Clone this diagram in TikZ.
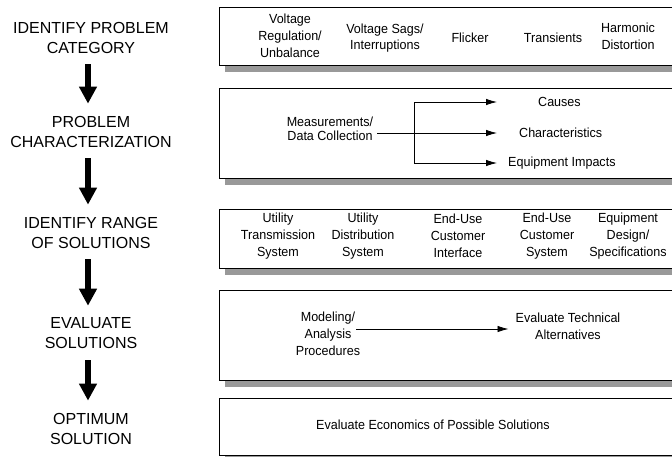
\documentclass[tikz,border=0pt]{standalone}
\usepackage{fontspec}
\setmainfont{Liberation Sans}
\newfontfamily\narrowsf{Liberation Sans}[FakeStretch=0.95]
\usepackage{tikz}
\usetikzlibrary{arrows.meta}
\usetikzlibrary{shadows}

\tikzset{
  steplabel/.style={align=center, inner sep=0pt, font=\fontsize{16}{20}\selectfont},
  boxtext/.style={align=center, inner sep=0pt, font=\narrowsf\fontsize{13.2}{16.8}\selectfont},
  panel/.style={draw, line width=1.3pt, fill=white, anchor=north west, minimum width=471pt,
    drop shadow={shadow xshift=5pt, shadow yshift=-6pt, fill=black!40, opacity=1}},
  bigarrow/.style={line width=6.5pt, -{Triangle[length=17pt,width=17pt]},
    shorten <=11pt, shorten >=12pt},
  thinarrow/.style={line width=0.8pt, -{Latex[length=11pt,width=6.5pt]}}
}

\begin{document}
\begin{tikzpicture}[x=1pt,y=-1pt]
  \path[use as bounding box] (0,0) rectangle (672,456);
  \clip (0,0) rectangle (672,456);

  % steps on the left
  \node[steplabel] (lab1) at (91,37.5) {IDENTIFY PROBLEM\\CATEGORY};
  \node[steplabel] (lab2) at (91,131.5) {PROBLEM\\CHARACTERIZATION};
  \node[steplabel] (lab3) at (91,232.5) {IDENTIFY RANGE\\OF SOLUTIONS};
  \node[steplabel] (lab4) at (91,333.5) {EVALUATE\\SOLUTIONS};
  \node[steplabel] (lab5) at (91,428.5) {OPTIMUM\\SOLUTION};

  \draw[bigarrow] ([xshift=-3pt]lab1.south) -- ([xshift=-3pt]lab2.north);
  \draw[bigarrow] ([xshift=-3pt]lab2.south) -- ([xshift=-3pt]lab3.north);
  \draw[bigarrow] ([xshift=-3pt]lab3.south) -- ([xshift=-3pt]lab4.north);
  \draw[bigarrow] ([xshift=-3pt]lab4.south) -- ([xshift=-3pt]lab5.north);

  % panels on the right
  \node[panel, minimum height=58pt] (catbox) at (219,7) {};
  \node[panel, minimum height=90pt] (charbox) at (219,88) {};
  \node[panel, minimum height=59pt] (rangebox) at (219,209) {};
  \node[panel, minimum height=90pt] (evalbox) at (219,290) {};
  \node[panel, minimum height=57pt] (optbox) at (219,398) {};

  % problem categories
  \node[boxtext] (volreg) at (290,36) {Voltage\\Regulation/\\Unbalance};
  \node[boxtext] (sags) at (385,38) {Voltage Sags/\\Interruptions};
  \node[boxtext] (flicker) at (470,38) {Flicker};
  \node[boxtext] (trans) at (553,38) {Transients};
  \node[boxtext] (harm) at (628,36) {Harmonic\\Distortion};

  % characterization
  \node[boxtext, font=\narrowsf\fontsize{13.2}{14.5}\selectfont] (meas) at (330,129) {Measurements/\\Data Collection};
  \node[boxtext, anchor=west] (causes) at (538,102) {Causes};
  \node[boxtext, anchor=west] (chars) at (519,133) {Characteristics};
  \node[boxtext, anchor=west] (impacts) at (508,163) {Equipment Impacts};
  \coordinate (fork) at (414,133);
  \coordinate (tipx) at (497,133);
  \draw[thinarrow, shorten <=4pt] (meas.east |- fork) -- (tipx);
  \draw[thinarrow] (fork) |- (causes.west -| tipx);
  \draw[thinarrow] (fork) |- (impacts.west -| tipx);

  % range of solutions
  \node[boxtext] (transsys) at (278,236) {Utility\\Transmission\\System};
  \node[boxtext] (distsys) at (363,236) {Utility\\Distribution\\System};
  \node[boxtext] (custint) at (458,236) {End-Use\\Customer\\Interface};
  \node[boxtext] (custsys) at (547,236) {End-Use\\Customer\\System};
  \node[boxtext] (equip) at (628,236) {Equipment\\Design/\\Specifications};

  % evaluation
  \node[boxtext] (modeling) at (328,333.5) {Modeling/\\Analysis\\Procedures};
  \node[boxtext] (techalt) at (568,326) {Evaluate Technical\\Alternatives};
  \coordinate (evalrow) at (0,329);
  \draw[thinarrow, shorten <=-4pt, shorten >=7pt] (modeling.east |- evalrow) -- (techalt.west |- evalrow);

  % optimum
  \node[boxtext] (econ) at (433,425) {Evaluate Economics of Possible Solutions};
\end{tikzpicture}
\end{document}
